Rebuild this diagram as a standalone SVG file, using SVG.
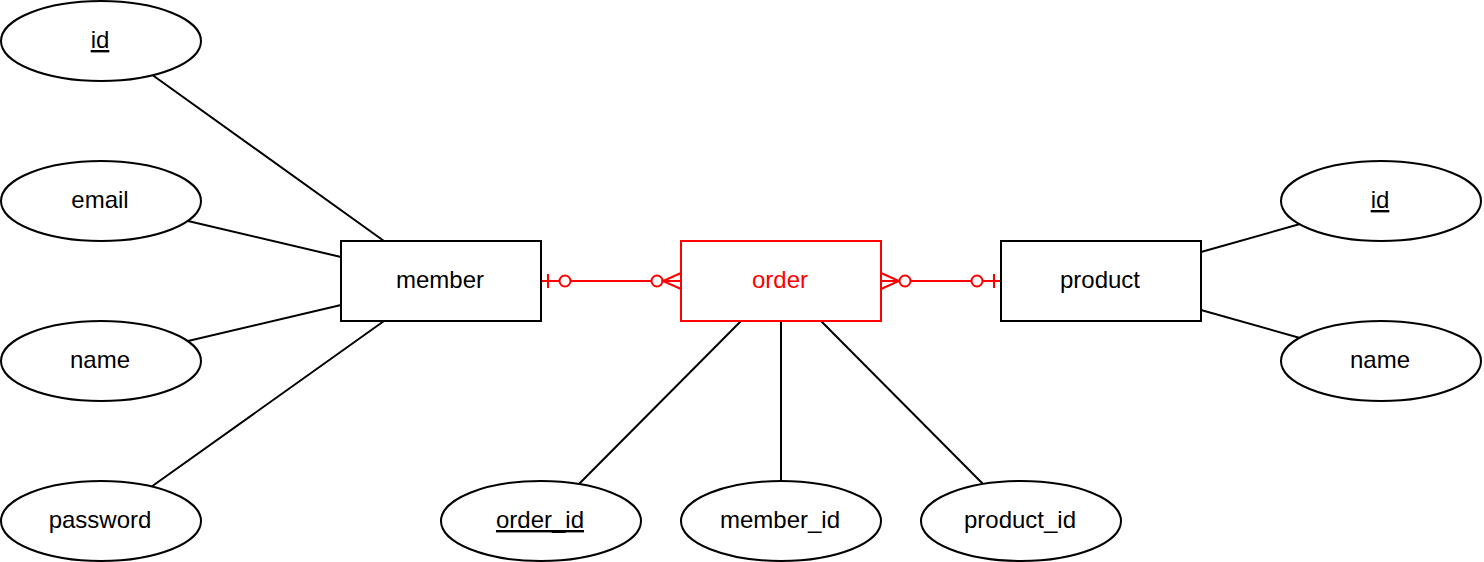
<svg xmlns="http://www.w3.org/2000/svg" width="1484" height="562" viewBox="0 0 1484 562">
<style>
.sh{fill:#fff;stroke:#000;stroke-width:2}
.red{fill:#fff;stroke:#ff0000;stroke-width:2}
.t{font-family:"Liberation Sans",Arial,sans-serif;font-size:24px;text-anchor:middle;fill:#000}
.u{text-decoration:underline}
.rt{fill:#ff0000}
.ln{stroke:#000;stroke-width:2;fill:none}
.rl{stroke:#ff0000;stroke-width:2;fill:none}
.rc{stroke:#ff0000;stroke-width:2;fill:#fff}
</style>
<rect width="1484" height="562" fill="#fff"/>
<g id="connectors">
<line class="ln" x1="151" y1="74" x2="384" y2="241"/>
<line class="ln" x1="188" y1="221" x2="341" y2="257"/>
<line class="ln" x1="188" y1="341" x2="341" y2="305"/>
<line class="ln" x1="151" y1="487" x2="384" y2="321"/>
<line class="ln" x1="741" y1="321" x2="578" y2="485"/>
<line class="ln" x1="781" y1="321" x2="781" y2="481"/>
<line class="ln" x1="821" y1="321" x2="984" y2="485"/>
<line class="ln" x1="1201" y1="252" x2="1300" y2="224"/>
<line class="ln" x1="1201" y1="310" x2="1300" y2="338"/>
<g id="rel-member-order">
<line class="rl" x1="541" y1="281" x2="681" y2="281"/>
<line class="rl" x1="548" y1="274" x2="548" y2="288"/>
<circle class="rc" cx="565" cy="281" r="5.5"/>
<circle class="rc" cx="657" cy="281" r="5.5"/>
<path class="rl" d="M681 273 L663 281 L681 289"/>
</g>
<g id="rel-order-product">
<line class="rl" x1="881" y1="281" x2="1001" y2="281"/>
<path class="rl" d="M881 273 L899 281 L881 289"/>
<circle class="rc" cx="905" cy="281" r="5.5"/>
<circle class="rc" cx="977" cy="281" r="5.5"/>
<line class="rl" x1="994" y1="274" x2="994" y2="288"/>
</g>
</g>
<g id="member-id"><ellipse class="sh" cx="101" cy="41" rx="100" ry="40"/><text class="t u" x="100" y="48">id</text></g>
<g id="member-email"><ellipse class="sh" cx="101" cy="201" rx="100" ry="40"/><text class="t" x="100" y="208">email</text></g>
<g id="member-name"><ellipse class="sh" cx="101" cy="361" rx="100" ry="40"/><text class="t" x="100" y="368">name</text></g>
<g id="member-password"><ellipse class="sh" cx="101" cy="521" rx="100" ry="40"/><text class="t" x="100" y="528">password</text></g>
<g id="member"><rect class="sh" x="341" y="241" width="200" height="80"/><text class="t" x="440" y="288">member</text></g>
<g id="order"><rect class="red" x="681" y="241" width="200" height="80"/><text class="t rt" x="780" y="288">order</text></g>
<g id="product"><rect class="sh" x="1001" y="241" width="200" height="80"/><text class="t" x="1100" y="288">product</text></g>
<g id="order-order_id"><ellipse class="sh" cx="541" cy="521" rx="100" ry="40"/><text class="t u" x="540" y="528">order_id</text></g>
<g id="order-member_id"><ellipse class="sh" cx="781" cy="521" rx="100" ry="40"/><text class="t" x="780" y="528">member_id</text></g>
<g id="order-product_id"><ellipse class="sh" cx="1021" cy="521" rx="100" ry="40"/><text class="t" x="1020" y="528">product_id</text></g>
<g id="product-id"><ellipse class="sh" cx="1381" cy="201" rx="100" ry="40"/><text class="t u" x="1380" y="208">id</text></g>
<g id="product-name"><ellipse class="sh" cx="1381" cy="361" rx="100" ry="40"/><text class="t" x="1380" y="368">name</text></g>
</svg>
